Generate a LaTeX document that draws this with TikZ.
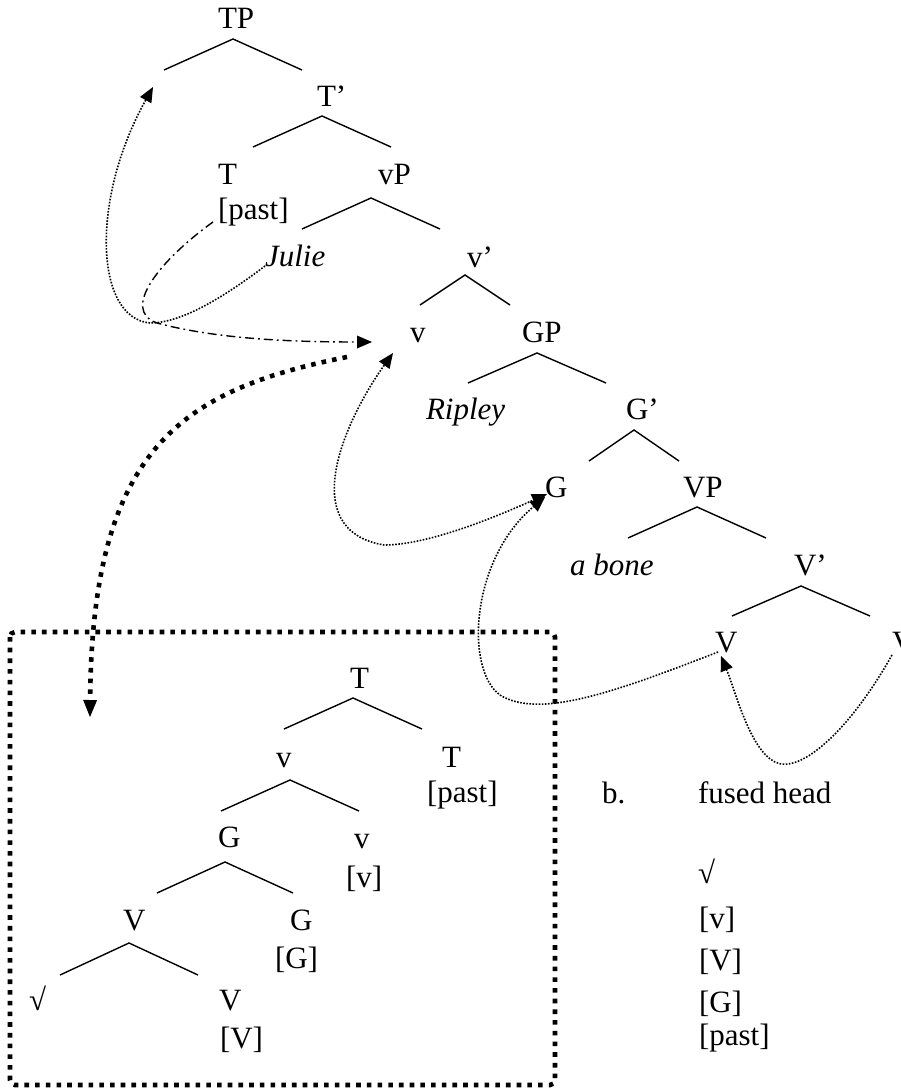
\documentclass[tikz,border=0pt]{standalone}
\usepackage{fontspec}
\setmainfont{Liberation Serif}
\usetikzlibrary{arrows.meta}
\newcommand{\fork}[5]{%
  \coordinate (#1l) at (#2-#4,#3+#5);
  \coordinate (#1t) at (#2,#3);
  \coordinate (#1r) at (#2+#4,#3+#5);
  \draw[branch] (#1l) -- (#1t) -- (#1r);}
\tikzset{
  lab/.style={anchor=base west, inner sep=0pt, outer sep=0pt},
  branch/.style={line width=1.4pt},
  fine/.style={line width=1.6pt, dash pattern=on 1.6pt off 1.5pt},
  dashdot/.style={line width=1.4pt, dash pattern=on 9pt off 4pt on 1.8pt off 4pt},
  heavy/.style={line width=4.6pt, dash pattern=on 4.6pt off 6.1pt},
  tip/.style={-{Triangle[length=15pt,width=13pt,line width=0pt]}},
  bothtip/.style={{Triangle[length=15pt,width=13pt,line width=0pt]}-{Triangle[length=15pt,width=13pt,line width=0pt]}},
  heavytip/.style={-{Triangle[length=17pt,width=14pt,line width=0pt]}},
}
\begin{document}
\begin{tikzpicture}[x=1pt,y=-1pt,font=\fontsize{31}{37}\selectfont]
\useasboundingbox (0,0) rectangle (900,1091);
% ---------- main tree labels
\node[lab] (tp) at (218,29) {TP};
\node[lab] (tbar) at (317,107) {T’};
\node[lab] (t) at (218,185) {T};
\node[lab] (tpast) at (218,220) {[past]};
\node[lab] (vp) at (378,185) {vP};
\node[lab] (julie) at (265,266) {\textit{Julie}};
\node[lab] (vbar) at (467,267) {v’};
\node[lab] (v) at (410,342) {v};
\node[lab] (gp) at (522,342) {GP};
\node[lab] (ripley) at (426,419) {\textit{Ripley}};
\node[lab] (gbar) at (626,419) {G’};
\node[lab] (g) at (545,497) {G};
\node[lab] (bigvp) at (683,497) {VP};
\node[lab] (bone) at (570,575) {\textit{a bone}};
\node[lab] (bigvbar) at (794,575) {V’};
\node[lab] (bigv) at (715,652) {V};
\node[lab] (bigvr) at (892,652) {V};
% ---------- main tree branches
\fork{fTP}{233}{39}{69}{31}
\fork{fTb}{322}{116}{69}{31}
\fork{fvP}{371}{198}{69}{31}
\fork{fvb}{465}{275}{45}{30}
\fork{fGP}{537}{353}{69}{30}
\fork{fGb}{634}{430}{45}{31}
\fork{fVP}{697}{507}{69}{31}
\fork{fVb}{801}{586}{69}{30}
% ---------- boxed complex head
\node[lab] (kT) at (350,688) {T};
\node[lab] (kv) at (276,767) {v};
\node[lab] (kT2) at (442,767) {T};
\node[lab] (kpast) at (427,802) {[past]};
\node[lab] (kG) at (218,847) {G};
\node[lab] (kv2) at (354,848) {v};
\node[lab] (kvf) at (346,887) {[v]};
\node[lab] (kV) at (123,930) {V};
\node[lab] (kG2) at (290,930) {G};
\node[lab] (kGf) at (275,968) {[G]};
\node[lab] (kroot) at (29,1010) {√};
\node[lab] (kV2) at (219,1010) {V};
\node[lab] (kVf) at (220,1048) {[V]};
\fork{kfT}{353}{698}{69}{31}
\fork{kfv}{290}{780}{69}{31}
\fork{kfG}{225}{862}{68}{31}
\fork{kfV}{129}{943}{69}{32}
\draw[heavy,rounded corners=5pt] (10,632) rectangle (555,1085);
% ---------- right column
\node[lab] (b) at (602,803) {b.};
\node[lab] (fused) at (698,803) {fused head};
\node[lab] (froot) at (698,883) {√};
\node[lab] (fv) at (699,928) {[v]};
\node[lab] (fV) at (699,970) {[V]};
\node[lab] (fG) at (699,1012) {[G]};
\node[lab] (fpast) at (699,1045) {[past]};
% ---------- movement arrows
\coordinate (specTP) at (153,87);
\coordinate (aM) at (150,323);
\draw[fine,tip] (julie.base west) .. controls (220,300) and (180,323) .. (aM)
  .. controls (95,318) and (90,200) .. (specTP);
\coordinate (bS) at (213,222);
\coordinate (bM) at (157,323);
\coordinate (vL) at (372,342);
\draw[dashdot,tip] (bS) .. controls (160,260) and (120,310) .. (bM)
  .. controls (220,340) and (300,342) .. (vL);
\coordinate (cS) at (347,357);
\coordinate (boxIn) at (90,717);
\draw[heavy,heavytip] (cS) .. controls (180,390) and (92,450) .. (boxIn);
\coordinate (vB) at (393,353);
\coordinate (dM) at (384,545);
\coordinate (gB) at (547,494);
\draw[fine,bothtip] (vB) .. controls (345,420) and (295,530) .. (dM)
  .. controls (430,545) and (500,515) .. (gB);
\coordinate (VS) at (718,652);
\coordinate (eM) at (500,695);
\coordinate (gB2) at (545,497);
\draw[fine,tip] (VS) .. controls (620,690) and (540,720) .. (eM)
  .. controls (465,670) and (470,560) .. (gB2);
\coordinate (VrS) at (892,655);
\coordinate (fM) at (775,762);
\coordinate (VB) at (721,656);
\draw[fine,tip] (VrS) .. controls (850,730) and (800,775) .. (fM)
  .. controls (750,750) and (735,690) .. (VB);
\end{tikzpicture}
\end{document}
